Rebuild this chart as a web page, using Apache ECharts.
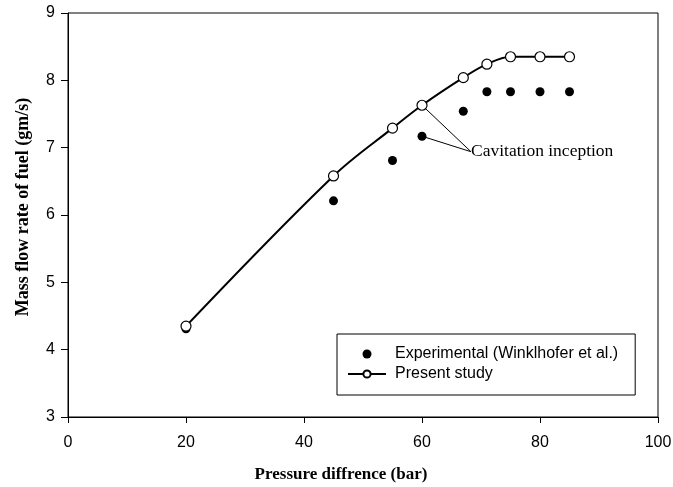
<!DOCTYPE html>
<html>
<head>
<meta charset="utf-8">
<script src="https://cdn.jsdelivr.net/npm/echarts@6/dist/echarts.min.js"></script>
<style>
  html, body { margin: 0; padding: 0; background: #fff; }
  #chart { width: 673px; height: 487px; }
</style>
</head>
<body>
<div id="chart"></div>
<script>
// Pressure difference (bar)
const pressure = [20, 45, 55, 60, 67, 71, 75, 80, 85];
// Experimental mass flow rate (gm/s)
const experimental = [4.31, 6.21, 6.81, 7.17, 7.54, 7.83, 7.83, 7.83, 7.83];
// Computed mass flow rate, present study (gm/s)
const presentStudy = [4.35, 6.58, 7.29, 7.63, 8.04, 8.24, 8.35, 8.35, 8.35];

const xTicks = { min: 0, max: 100, step: 20 };
const yTicks = { min: 3, max: 9, step: 1 };

// Where the "Cavitation inception" callout text sits (data units)
const calloutAt = [68.3, 6.94];
const calloutPressure = 60;

const pair = (xs, ys) => xs.map((x, i) => [x, ys[i]]);
const ci = pressure.indexOf(calloutPressure);

const chart = echarts.init(document.getElementById('chart'), null, { renderer: 'canvas' });

chart.setOption({
  animation: false,
  backgroundColor: '#fff',
  grid: {
    left: 68, right: 15, top: 13, bottom: 70,
    containLabel: false,
    outerBoundsMode: 'none',
    show: true, borderColor: '#000', borderWidth: 1, backgroundColor: 'transparent'
  },
  xAxis: {
    type: 'value',
    min: xTicks.min, max: xTicks.max, interval: xTicks.step,
    name: 'Pressure diffrence (bar)',
    nameLocation: 'middle',
    nameGap: 49,
    nameTextStyle: {
      fontFamily: 'Liberation Serif', fontWeight: 'bold', fontSize: 17, color: '#000',
      padding: [0, 44, 0, 0]
    },
    axisLine: { show: true, lineStyle: { color: '#000', width: 1 } },
    axisTick: { show: true, length: 6, lineStyle: { color: '#000' } },
    axisLabel: { fontFamily: 'Liberation Sans', fontSize: 16, color: '#000', margin: 18 },
    splitLine: { show: false }
  },
  yAxis: {
    type: 'value',
    min: yTicks.min, max: yTicks.max, interval: yTicks.step,
    name: 'Mass flow rate of fuel (gm/s)',
    nameLocation: 'middle',
    nameGap: 36,
    nameRotate: 90,
    nameTextStyle: {
      fontFamily: 'Liberation Serif', fontWeight: 'bold', fontSize: 18, color: '#000',
      padding: [0, 0, 0, 16]
    },
    axisLine: { show: true, lineStyle: { color: '#000', width: 1 } },
    axisTick: { show: true, length: 7, lineStyle: { color: '#000' } },
    axisLabel: { fontFamily: 'Liberation Sans', fontSize: 16, color: '#000', margin: 13 },
    splitLine: { show: false }
  },
  legend: {
    orient: 'vertical',
    left: 337, top: 334,
    padding: [12, 17, 13, 10],
    itemGap: 4,
    itemWidth: 38, itemHeight: 9,
    borderColor: '#000', borderWidth: 1,
    backgroundColor: '#fff',
    textStyle: {
      fontFamily: 'Liberation Sans', fontSize: 16, color: '#000',
      lineHeight: 16, padding: [0, 0, 0, 4]
    },
    data: ['Experimental (Winklhofer et al.)', 'Present study']
  },
  series: [
    {
      name: 'Present study',
      type: 'line',
      data: pair(pressure, presentStudy),
      smooth: 0.35,
      symbol: 'circle',
      symbolSize: 10,
      itemStyle: { color: '#fff', borderColor: '#000', borderWidth: 1.2, opacity: 1 },
      lineStyle: { color: '#000', width: 2 },
      z: 3,
      markLine: {
        silent: true,
        symbol: ['none', 'none'],
        lineStyle: { color: '#000', width: 1, type: 'solid' },
        label: { show: false },
        z: 1,
        data: [
          [{ coord: [pressure[ci], presentStudy[ci]] }, { coord: calloutAt }],
          [{ coord: [pressure[ci], experimental[ci]] }, { coord: calloutAt }]
        ]
      },
      markPoint: {
        silent: true,
        symbol: 'circle',
        symbolSize: 0,
        data: [{ coord: calloutAt, value: 'Cavitation inception' }],
        label: {
          show: true,
          position: 'right',
          distance: 0,
          formatter: 'Cavitation inception',
          fontFamily: 'Liberation Serif',
          fontSize: 17.5,
          color: '#000'
        }
      }
    },
    {
      name: 'Experimental (Winklhofer et al.)',
      type: 'scatter',
      data: pair(pressure, experimental),
      symbol: 'circle',
      symbolSize: 9,
      itemStyle: { color: '#000', opacity: 1 },
      z: 2
    }
  ]
});
</script>
</body>
</html>
